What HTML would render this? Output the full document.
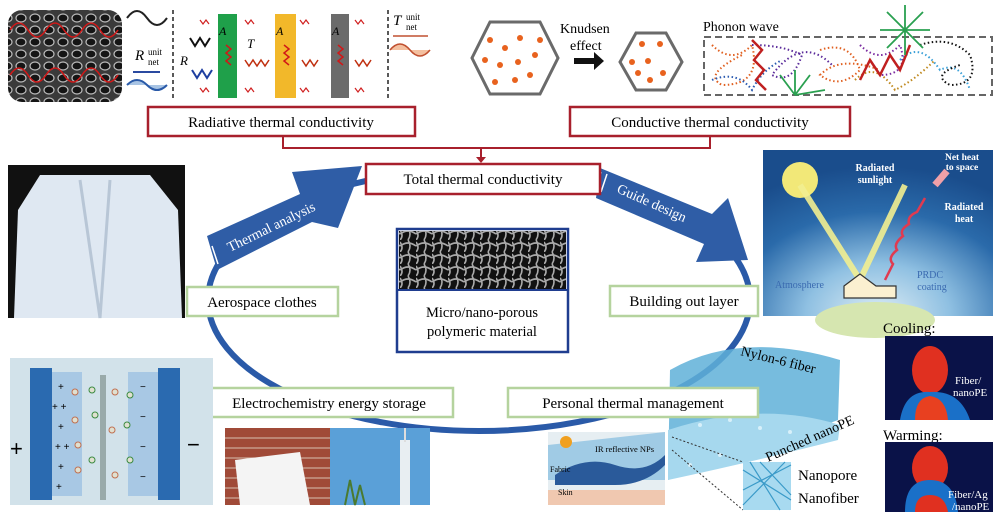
<!DOCTYPE html>
<html><head><meta charset="utf-8"><style>
html,body{margin:0;padding:0;background:#fff;}
svg{display:block;font-family:"Liberation Serif",serif;}
</style></head><body>
<svg width="1000" height="523" viewBox="0 0 1000 523" xmlns="http://www.w3.org/2000/svg">
<defs>
<pattern id="foam" width="14" height="12" patternUnits="userSpaceOnUse"><rect width="14" height="12" fill="#3a3a3a"/><ellipse cx="7" cy="6" rx="5" ry="4" fill="#151515" stroke="#bbb" stroke-width="1.2"/></pattern>
<pattern id="fib" width="16" height="12" patternUnits="userSpaceOnUse"><rect width="16" height="12" fill="#111"/><path d="M0 6 Q8 0 16 6 M8 0 Q12 6 8 12 M0 12 Q4 8 0 2" stroke="#aaa" stroke-width="1.6" fill="none"/></pattern>
<radialGradient id="sky" cx="0.5" cy="1" r="0.9"><stop offset="0" stop-color="#dfeef5"/><stop offset="0.35" stop-color="#8fc0e2"/><stop offset="0.7" stop-color="#2a6aaa"/><stop offset="1" stop-color="#1a4d8c"/></radialGradient>
</defs>

<!-- SEM foam top-left -->
<rect x="8" y="10" width="114" height="92" rx="14" fill="url(#foam)"/>
<path d="M10 30 q9 -14 18 0 t18 0 t18 0 t18 0 t18 0 t18 0" stroke="#d01818" stroke-width="1.6" fill="none"/>
<path d="M10 75 q9 -14 18 0 t18 0 t18 0 t18 0 t18 0 t18 0" stroke="#d01818" stroke-width="1.6" fill="none"/>
<path d="M127 18 q10 -14 20 0 t20 0" stroke="#222" stroke-width="2" fill="none"/>
<path d="M127 85 q10 -10 20 0 t20 0" stroke="#2a5aa8" stroke-width="2" fill="#a8c4e4"/>
<line x1="160" y1="72" x2="133" y2="72" stroke="#2a4aa0" stroke-width="2"/>
<text x="135" y="60" font-size="15" font-style="italic">R</text><text x="148" y="55" font-size="9">unit</text><text x="148" y="65" font-size="9">net</text>
<line x1="173" y1="10" x2="173" y2="100" stroke="#222" stroke-width="1.5" stroke-dasharray="4,3"/>
<line x1="388" y1="10" x2="388" y2="100" stroke="#222" stroke-width="1.5" stroke-dasharray="4,3"/>
<rect x="218" y="14" width="19" height="84" fill="#1fa04a"/>
<rect x="275" y="14" width="21" height="84" fill="#f2b82a"/>
<rect x="331" y="14" width="18" height="84" fill="#6b6b6b"/>
<text x="219" y="35" font-size="12" font-style="italic">A</text><text x="276" y="35" font-size="12" font-style="italic">A</text><text x="332" y="35" font-size="12" font-style="italic">A</text>
<text x="247" y="48" font-size="13" font-style="italic">T</text><text x="180" y="65" font-size="13" font-style="italic">R</text>
<path d="M190 38 l5 8 5 -8 5 8 5 -8" stroke="#111" stroke-width="2" fill="none"/>
<path d="M192 70 l5 8 5 -8 5 8 5 -8" stroke="#1e3fa0" stroke-width="2" fill="none"/>
<path d="M245 60 l4 6 4 -6 4 6 4 -6 4 6 4 -6 M302 60 l4 6 4 -6 4 6 4 -6 M355 60 l4 6 4 -6 4 6 4 -6" stroke="#c03010" stroke-width="1.5" fill="none"/>
<path d="M226 45 l5 4 -5 4 5 4 -5 4 5 4 M284 45 l5 4 -5 4 5 4 -5 4 5 4 M338 45 l5 4 -5 4 5 4 -5 4 5 4" stroke="#d01818" stroke-width="1.5" fill="none"/>
<g stroke="#d02020" stroke-width="1.2" fill="none"><path d="M200 20 l3 4 3 -4 3 4 M245 20 l3 4 3 -4 3 4 M300 20 l3 4 3 -4 3 4 M355 20 l3 4 3 -4 3 4 M200 88 l3 4 3 -4 3 4 M245 88 l3 4 3 -4 3 4 M300 88 l3 4 3 -4 3 4 M355 88 l3 4 3 -4 3 4"/></g>
<text x="393" y="25" font-size="15" font-style="italic">T</text><text x="406" y="20" font-size="9">unit</text><text x="406" y="30" font-size="9">net</text>
<line x1="393" y1="36" x2="428" y2="36" stroke="#c05030" stroke-width="1.5"/>
<path d="M390 50 q10 -12 20 0 t20 0" stroke="#c05030" stroke-width="1.6" fill="#f4c0a0"/>

<!-- hexagons -->
<polygon points="490,22 540,22 558,58 540,94 490,94 472,58" fill="#fff" stroke="#6a6a6a" stroke-width="3"/>
<g fill="#e8621e"><circle cx="490" cy="40" r="3"/><circle cx="505" cy="48" r="3"/><circle cx="520" cy="38" r="3"/><circle cx="485" cy="60" r="3"/><circle cx="500" cy="65" r="3"/><circle cx="518" cy="62" r="3"/><circle cx="535" cy="55" r="3"/><circle cx="495" cy="82" r="3"/><circle cx="515" cy="80" r="3"/><circle cx="530" cy="75" r="3"/><circle cx="540" cy="40" r="3"/></g>
<text x="560" y="33" font-size="14">Knudsen</text><text x="570" y="50" font-size="14">effect</text>
<path d="M574 58 h20 v-6 l10 9 -10 9 v-6 h-20z" fill="#111"/>
<polygon points="636,33 666,33 682,62 666,90 636,90 620,62" fill="#fff" stroke="#6a6a6a" stroke-width="3"/>
<g fill="#e8621e"><circle cx="642" cy="44" r="3"/><circle cx="660" cy="44" r="3"/><circle cx="632" cy="62" r="3"/><circle cx="648" cy="61" r="3"/><circle cx="663" cy="73" r="3"/><circle cx="650" cy="80" r="3"/><circle cx="638" cy="73" r="3"/></g>
<text x="703" y="31" font-size="14">Phonon wave</text>
<rect x="704" y="37" width="288" height="58" fill="none" stroke="#666" stroke-width="2" stroke-dasharray="7,4"/>
<g fill="none" stroke-width="2" stroke-dasharray="1.5,2.5">
<path d="M712 45 q20 20 40 0 q10 40 -30 40 q-20 -10 20 -30" stroke="#e06020"/>
<path d="M712 80 q25 -10 40 10 q10 -20 30 -30" stroke="#2a5ab0"/>
<path d="M752 45 q30 0 50 10 q-10 30 -30 20 q30 -40 60 -10" stroke="#5a2a9a"/>
<path d="M820 50 q30 -10 40 20 q-20 20 -40 5 q20 -20 60 -5" stroke="#e06020"/>
<path d="M860 45 q20 20 40 0 q10 30 -20 30" stroke="#7a2aa0"/>
<path d="M855 80 q20 -20 40 10 q20 -10 40 -30" stroke="#c08a20"/>
<path d="M900 60 q20 -20 40 10 q20 -10 30 20" stroke="#3aa0d8"/>
<path d="M920 45 q30 -10 50 10 q10 30 -20 30 q-20 -10 10 -20" stroke="#111"/>
</g>
<path d="M752 40 l10 10 -8 10 10 10 -8 10 10 10 M860 80 l10 -20 10 15 10 -20 10 15 10 -25" stroke="#c02020" stroke-width="2.5" fill="none"/>
<g stroke="#2aa050" stroke-width="1.8"><path d="M905 30 l0 -25 M905 30 l18 -18 M905 30 l25 0 M905 30 l-18 -18 M905 30 l-25 0 M905 30 l18 18 M905 30 l-18 18 M905 30 l0 25 M795 95 l-15 -20 M795 95 l0 -25 M795 95 l15 -20 M795 95 l30 -5"/></g>

<!-- radiative/conductive boxes -->
<path d="M283 136 V148 H710 V136" fill="none" stroke="#a8202c" stroke-width="2"/>
<line x1="481" y1="148" x2="481" y2="160" stroke="#a8202c" stroke-width="2"/>
<path d="M476 157 l5 6 5 -6z" fill="#a8202c"/>
<rect x="148" y="107" width="267" height="29" fill="#fff" stroke="#a8202c" stroke-width="2.5"/>
<text x="281" y="127" font-size="15" text-anchor="middle">Radiative thermal conductivity</text>
<rect x="570" y="107" width="280" height="29" fill="#fff" stroke="#a8202c" stroke-width="2.5"/>
<text x="710" y="127" font-size="15" text-anchor="middle">Conductive thermal conductivity</text>

<!-- ellipse -->
<ellipse cx="479" cy="300" rx="271" ry="131" fill="none" stroke="#2a5aa8" stroke-width="6"/>
<!-- arrows -->
<g fill="#2f5da6">
<polygon points="207,236 300,194 292,172 362,166 338,228 312,222 217,270"/>
<polygon points="600,168 712,214 728,198 748,260 696,262 704,244 596,198"/>
</g>
<path d="M212 246 l6 18 M206 249 l6 18 M601 172 l-6 18 M607 174 l-6 18" stroke="#fff" stroke-width="1.5"/>
<text x="0" y="0" font-size="14" fill="#fff" transform="translate(230,252) rotate(-26)">Thermal analysis</text>
<text x="0" y="0" font-size="14" fill="#fff" transform="translate(616,192) rotate(24)">Guide design</text>
<rect x="366" y="164" width="234" height="30" fill="#fff" stroke="#a8202c" stroke-width="2.5"/>
<text x="483" y="184" font-size="15" text-anchor="middle">Total thermal conductivity</text>

<!-- jacket -->
<rect x="8" y="165" width="177" height="153" fill="#111"/>
<path d="M40 175 L150 175 L178 210 L182 318 L14 318 L18 210 Z" fill="#dfe8f2"/>
<path d="M80 180 L100 318 M110 180 L100 318" stroke="#b8c6d6" stroke-width="3"/>
<!-- micro box -->
<rect x="397" y="229" width="171" height="123" fill="#fff" stroke="#1f3d8f" stroke-width="2.5"/>
<rect x="399" y="231" width="167" height="58" fill="url(#fib)"/>
<line x1="398" y1="290" x2="567" y2="290" stroke="#1f3d8f" stroke-width="2"/>
<text x="482" y="317" font-size="14.5" text-anchor="middle">Micro/nano-porous</text>
<text x="482" y="336" font-size="14.5" text-anchor="middle">polymeric material</text>

<!-- sky image -->
<rect x="763" y="150" width="230" height="166" fill="url(#sky)"/>
<ellipse cx="875" cy="320" rx="60" ry="18" fill="#d6e6b0"/>
<circle cx="800" cy="180" r="18" fill="#f2e878"/>
<path d="M800 185 L860 280 L905 185" stroke="#f2ee90" stroke-width="6" fill="none" opacity="0.9"/>
<path d="M885 280 q4 -8 8 -16 q-6 -6 4 -14 q-4 -6 6 -14 q-4 -6 6 -12 q-2 -8 8 -12 l8 -14" stroke="#e03a50" stroke-width="2.5" fill="none"/>
<path d="M935 185 l12 -14" stroke="#f0a0a8" stroke-width="7"/>
<polygon points="844,286 860,274 876,286 896,286 896,298 844,298" fill="#fbf0d0" stroke="#333" stroke-width="1.2"/>
<text x="875" y="171" font-size="10" fill="#fff" font-weight="bold" text-anchor="middle">Radiated</text>
<text x="875" y="183" font-size="10" fill="#fff" font-weight="bold" text-anchor="middle">sunlight</text>
<text x="962" y="160" font-size="9.5" fill="#fff" font-weight="bold" text-anchor="middle">Net heat</text>
<text x="962" y="170" font-size="9.5" fill="#fff" font-weight="bold" text-anchor="middle">to space</text>
<text x="964" y="210" font-size="10" fill="#fff" font-weight="bold" text-anchor="middle">Radiated</text>
<text x="964" y="222" font-size="10" fill="#fff" font-weight="bold" text-anchor="middle">heat</text>
<text x="775" y="288" font-size="10" fill="#3a6ab0">Atmosphere</text>
<text x="930" y="278" font-size="10" fill="#3a6ab0" text-anchor="middle">PRDC</text>
<text x="932" y="290" font-size="10" fill="#3a6ab0" text-anchor="middle">coating</text>

<!-- nylon sheet (behind boxes) -->
<path d="M670 370 Q740 330 840 360 L838 420 Q760 450 668 480 Z" fill="#5fb0d8" opacity="0.85"/>
<path d="M668 430 Q760 400 840 425 L838 440 Q760 460 668 480 Z" fill="#a6d8ee"/>
<g fill="#d8f0fa"><circle cx="700" cy="425" r="2"/><circle cx="730" cy="420" r="2"/><circle cx="760" cy="428" r="2"/><circle cx="790" cy="432" r="2"/><circle cx="720" cy="455" r="2"/><circle cx="690" cy="465" r="2"/></g>
<text x="0" y="0" font-size="14" transform="translate(740,355) rotate(14)">Nylon-6 fiber</text>
<text x="0" y="0" font-size="14" transform="translate(768,462) rotate(-24)">Punched nanoPE</text>

<!-- green boxes -->
<g fill="#fff" stroke="#b5d39e" stroke-width="2.5">
<rect x="187" y="287" width="151" height="29"/>
<rect x="610" y="286" width="148" height="30"/>
<rect x="205" y="388" width="248" height="29"/>
<rect x="508" y="388" width="250" height="29"/>
</g>
<g font-size="15" text-anchor="middle">
<text x="262" y="307">Aerospace clothes</text>
<text x="684" y="306">Building out layer</text>
<text x="329" y="408">Electrochemistry energy storage</text>
<text x="633" y="408">Personal thermal management</text>
</g>

<!-- battery -->
<rect x="10" y="358" width="203" height="147" fill="#d2e2ea"/>
<rect x="30" y="368" width="22" height="132" fill="#2a6ab0"/>
<rect x="52" y="372" width="30" height="124" fill="#a8c8e4"/>
<rect x="100" y="375" width="6" height="125" fill="#9aa"/>
<rect x="128" y="372" width="30" height="124" fill="#a8c8e4"/>
<rect x="158" y="368" width="22" height="132" fill="#2a6ab0"/>
<text x="10" y="456" font-size="22" font-family="Liberation Sans">+</text>
<text x="187" y="452" font-size="22" font-family="Liberation Sans">−</text>
<g font-size="10" font-family="Liberation Sans"><text x="58" y="390">+</text><text x="52" y="410">+ +</text><text x="58" y="430">+</text><text x="55" y="450">+ +</text><text x="58" y="470">+</text><text x="56" y="490">+</text>
<text x="140" y="390">−</text><text x="140" y="420">−</text><text x="140" y="450">−</text><text x="140" y="480">−</text></g>
<g fill="#e0e0d0" stroke="#c07050"><circle cx="75" cy="392" r="3"/><circle cx="75" cy="420" r="3"/><circle cx="78" cy="445" r="3"/><circle cx="78" cy="470" r="3"/><circle cx="115" cy="392" r="3"/><circle cx="112" cy="430" r="3"/><circle cx="115" cy="475" r="3"/></g>
<g fill="#e0e0d0" stroke="#3a8a40"><circle cx="92" cy="390" r="3"/><circle cx="95" cy="415" r="3"/><circle cx="92" cy="460" r="3"/><circle cx="130" cy="395" r="3"/><circle cx="127" cy="425" r="3"/><circle cx="130" cy="460" r="3"/></g>

<!-- brick/city -->
<rect x="225" y="428" width="105" height="77" fill="#a04a38"/>
<g stroke="#d8c0b0" stroke-width="1"><path d="M225 438h105M225 448h105M225 458h105M225 468h105M225 478h105M225 488h105M225 498h105"/></g>
<polygon points="235,460 300,452 310,505 240,505" fill="#f4f4f4"/>
<rect x="330" y="428" width="100" height="77" fill="#5aa0d8"/>
<rect x="400" y="440" width="10" height="65" fill="#e8eef2"/><rect x="404" y="428" width="2" height="14" fill="#ddd"/>
<path d="M345 505 l5 -25 5 25 5 -20 5 20" stroke="#4a7a30" stroke-width="2" fill="none"/>

<!-- fabric -->
<rect x="548" y="432" width="117" height="73" fill="#e6eef2"/>
<path d="M548 445 L665 432 L665 480 L548 480Z" fill="#5aa8d8" opacity="0.5"/>
<path d="M555 475 q30 -20 60 -10 t50 -10 l0 10 q-20 20 -50 20 t-60 0z" fill="#2a5a9a"/>
<rect x="548" y="490" width="117" height="15" fill="#f0c8b0"/>
<circle cx="566" cy="442" r="6" fill="#f0a020"/>
<text x="595" y="452" font-size="8.5">IR reflective NPs</text>
<text x="550" y="472" font-size="8">Fabric</text><text x="558" y="495" font-size="8">Skin</text>
<path d="M672 437 L743 462 M672 450 L743 510" stroke="#333" stroke-width="1" stroke-dasharray="2,2"/>
<rect x="743" y="462" width="48" height="48" fill="#a8daf0"/>
<g stroke="#3a9ac8" stroke-width="1.2"><path d="M743 470 L791 500 M750 462 L780 510 M743 490 L791 465 M760 462 L791 495 M743 505 L785 462"/></g>
<text x="798" y="480" font-size="15">Nanopore</text>
<text x="798" y="503" font-size="15">Nanofiber</text>

<!-- thermal images -->
<text x="883" y="333" font-size="15">Cooling:</text>
<rect x="885" y="336" width="108" height="84" fill="#0a1248"/>
<ellipse cx="930" cy="370" rx="18" ry="24" fill="#e03020"/>
<path d="M900 420 Q905 390 930 392 Q960 390 970 420Z" fill="#1a70c8"/>
<path d="M915 420 Q915 398 930 396 Q946 398 948 420Z" fill="#e84020"/>
<text x="955" y="384" font-size="11" fill="#fff">Fiber/</text><text x="953" y="396" font-size="11" fill="#fff">nanoPE</text>
<text x="883" y="440" font-size="15">Warming:</text>
<rect x="885" y="442" width="108" height="70" fill="#0a1248"/>
<ellipse cx="930" cy="468" rx="18" ry="22" fill="#e03020"/>
<path d="M905 512 Q905 480 930 480 Q955 480 958 512Z" fill="#1a70c8"/>
<path d="M915 512 Q915 495 930 495 Q945 495 948 512Z" fill="#e03020"/>
<text x="948" y="498" font-size="11" fill="#fff">Fiber/Ag</text><text x="952" y="510" font-size="11" fill="#fff">/nanoPE</text>
</svg>
</body></html>
